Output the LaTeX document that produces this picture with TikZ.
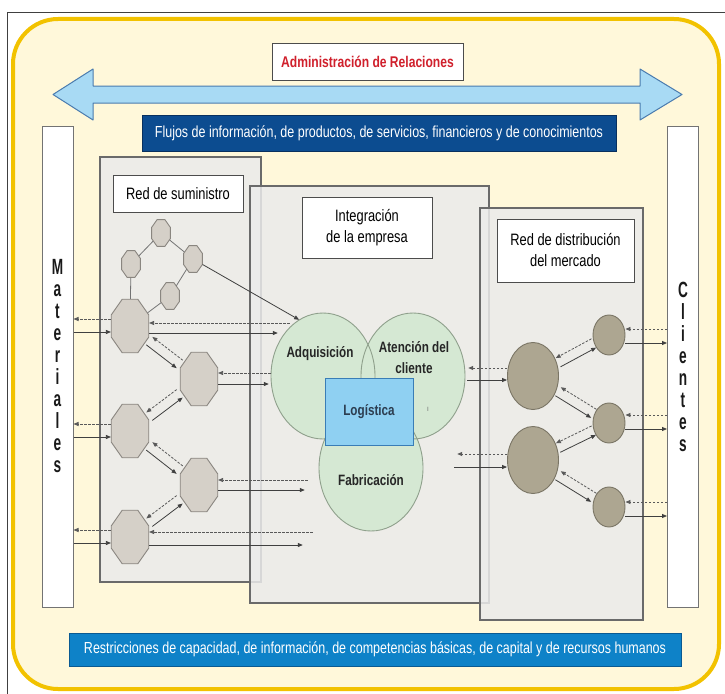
\documentclass[tikz,border=0pt]{standalone}
\usepackage{fontspec}
\setmainfont{Liberation Sans}[FakeStretch=0.78]
\newfontfamily\tallfont{Liberation Sans}[FakeStretch=0.62]
\usetikzlibrary{shapes.geometric, arrows.meta, calc}

\definecolor{goldline}{HTML}{F2C200}
\definecolor{creambg}{HTML}{FFF8DA}
\definecolor{skyfill}{HTML}{A8DAF4}
\definecolor{skyline}{HTML}{4A7BAE}
\definecolor{navyfill}{HTML}{0C4C90}
\definecolor{navyline}{HTML}{08305E}
\definecolor{cyanfill}{HTML}{0E82C8}
\definecolor{cyanline}{HTML}{0A5A92}
\definecolor{redtext}{HTML}{D0202C}
\definecolor{panelfill}{HTML}{EBEBEB}
\definecolor{panelline}{HTML}{6A6A6A}
\definecolor{octfill}{HTML}{D5D0C8}
\definecolor{octline}{HTML}{8A8680}
\definecolor{dotfill}{HTML}{ADA691}
\definecolor{dotline}{HTML}{7A7565}
\definecolor{greenfill}{HTML}{D5E8D3}
\definecolor{greenline}{HTML}{8FA08C}
\definecolor{logifill}{HTML}{8FD0F2}
\definecolor{logiline}{HTML}{3A7DB6}
\definecolor{logitext}{HTML}{2C3D50}

\tikzset{
  panel/.style={draw=panelline, line width=1.2pt, fill=panelfill, fill opacity=0.85, text opacity=1, inner sep=0pt},
  headbox/.style={draw=black!70, line width=1pt, fill=white, align=center, inner sep=0pt,
    text=black, font=\fontsize{16.5}{21}\selectfont},
  column/.style={draw=black!55, line width=1pt, fill=white, align=center, inner sep=0pt,
    minimum width=31pt, minimum height=481pt, text=black!90, font=\tallfont\bfseries\fontsize{22}{22}\selectfont},
  bigoct/.style={regular polygon, regular polygon sides=8, minimum size=58pt, xscale=0.7, transform shape,
    draw=octline, fill=octfill, inner sep=0pt, line width=0.9pt},
  smalloct/.style={bigoct, minimum size=29pt},
  bigdot/.style={ellipse, draw=dotline, fill=dotfill, line width=0.9pt, inner sep=0pt, minimum width=51pt, minimum height=67pt},
  smalldot/.style={bigdot, minimum width=32pt, minimum height=40pt},
  area/.style={ellipse, fill=greenfill, inner sep=0pt, minimum width=104pt, minimum height=126pt},
  arealabel/.style={align=center, text=black!85, font=\bfseries\fontsize{15}{21}\selectfont},
  link/.style={draw=black!55, line width=0.8pt},
  flow/.style={draw=black!75, line width=0.8pt, -{Triangle[length=5pt, width=4pt]}},
  back/.style={flow, draw=black!65, dash pattern=on 2.5pt off 1.5pt},
}

% solid arrow from #1 to #2, dashed one back, each on its right hand side
\newcommand{\twoway}[4]{%
  \draw[flow] ($(#1)!#3!(#2)!5pt!-90:(#2)$) -- ($(#2)!#4!(#1)!5pt!90:(#1)$);
  \draw[back] ($(#2)!#4!(#1)!5pt!-90:(#1)$) -- ($(#1)!#3!(#2)!5pt!90:(#2)$);
}

\begin{document}
\begin{tikzpicture}[x=1pt, y=-1pt]

	\useasboundingbox (0,0) rectangle (725,693);
	\draw[black!75, line width=1pt] (7,13) rectangle (760,720);
	\draw[goldline, line width=4pt, fill=creambg, rounded corners=45pt] (13,19) rectangle (719,689);

	% top band
	\node[draw=black!70, line width=1pt, fill=white, inner sep=0pt, minimum width=191pt, minimum height=36pt,
		text=redtext, font=\bfseries\fontsize{15.5}{18}\selectfont] (admin) at (367.5,62) {Administración de Relaciones};
	\draw[draw=skyline, line width=1pt, fill=skyfill, line join=round]
		(53,94.5) -- (93,69) -- (93,86) -- (640,86) -- (640,69) -- (682,94.5)
		-- (640,120) -- (640,103) -- (93,103) -- (93,120) -- cycle;
	\node[draw=navyline, line width=1pt, fill=navyfill, inner sep=0pt, minimum width=474pt, minimum height=36pt,
		text=white, font=\fontsize{16}{18}\selectfont] (flows) at (379,133)
		{Flujos de información, de productos, de servicios, financieros y de conocimientos};

	% side columns
	\node[column] (mat) at (57.5,366.5) {M\\a\\t\\e\\r\\i\\a\\l\\e\\s};
	\node[column] (cli) at (683,366.5) {C\\l\\i\\e\\n\\t\\e\\s};

	% panels
	\node[panel, minimum width=161pt, minimum height=425pt] (sup) at (180.5,369.5) {};
	\node[panel, minimum width=239pt, minimum height=417pt] (int) at (369.5,394.5) {};
	\node[panel, minimum width=163pt, minimum height=412pt] (dis) at (561.5,414) {};

	\node[headbox, minimum width=130pt, minimum height=37pt] (supHead) at (178,193.5) {Red de suministro};
	\node[headbox, minimum width=130pt, minimum height=61pt] (intHead) at (367,227.5) {Integración\\de la empresa};
	\node[headbox, minimum width=137pt, minimum height=63pt] (disHead) at (565.5,250.5) {Red de distribución\\del mercado};

	% supply network
	\node[smalloct] (st) at (161,233) {};
	\node[smalloct] (sl) at (131,264) {};
	\node[smalloct] (sr) at (193,259) {};
	\node[smalloct] (sb) at (170,296) {};
	\node[bigoct] (b1) at (130,326) {};
	\node[bigoct] (b2) at (199,379) {};
	\node[bigoct] (b3) at (130,431) {};
	\node[bigoct] (b4) at (199,485) {};
	\node[bigoct] (b5) at (130,537) {};
	\draw[link] (sl) -- (st) -- (sr) -- (sb) -- (b1) -- (sl);

	% enterprise
	\node[area] (adq) at (323,376) {};
	\node[area] (atn) at (413,376) {};
	\node[area] (fab) at (371,468) {};
	\foreach \c in {adq,atn,fab}
		\draw[greenline, line width=0.9pt] (\c.center) ellipse [x radius=52, y radius=63];
	\node[arealabel] (adqText) at (320,354) {Adquisición};
	\node[arealabel] (atnText) at (414,358) {Atención del\\cliente};
	\node[arealabel] (fabText) at (371,480) {Fabricación};
	\node[text=black!60, font=\fontsize{8}{8}\selectfont] (tick) at (428,409) {ı};
	\node[draw=logiline, line width=1pt, fill=logifill, inner sep=0pt, minimum width=88pt, minimum height=67pt,
		text=logitext, font=\bfseries\fontsize{15}{18}\selectfont] (logi) at (369,411.5) {Logística};

	% distribution network
	\node[bigdot] (d1) at (533,376) {};
	\node[bigdot] (d2) at (533,460) {};
	\node[smalldot] (s1) at (609,335) {};
	\node[smalldot] (s2) at (609,423) {};
	\node[smalldot] (s3) at (609,507) {};

	% supply flows
	\foreach \n in {b1,b3,b5} {
		\draw[back] ([yshift=7pt]\n.west) -- ([yshift=7pt]\n.west -| mat.east);
		\draw[flow] ([yshift=-6pt]\n.west -| mat.east) -- ([yshift=-6pt]\n.west);
	}
	\twoway{b1}{b2}{0.28}{0.28}
	\twoway{b3}{b2}{0.28}{0.28}
	\twoway{b3}{b4}{0.28}{0.28}
	\twoway{b5}{b4}{0.28}{0.28}
	\draw[flow] (sr) -- (adq.113);
	\draw[back] ([xshift=19pt,yshift=3pt]b1.east -| adq.west) -- ([yshift=3pt]b1.east);
	\draw[flow] ([yshift=-7pt]b1.east) -- ([xshift=7pt,yshift=-7pt]b1.east -| adq.west);
	\draw[back] ([yshift=6pt]b2.east -| adq.west) -- ([yshift=6pt]b2.east);
	\draw[flow] ([yshift=-5pt]b2.east) -- ([xshift=-2pt,yshift=-5pt]b2.east -| adq.west);
	\draw[back] ([xshift=-11pt,yshift=5pt]b4.east -| fab.west) -- ([yshift=5pt]b4.east);
	\draw[flow] ([yshift=-5pt]b4.east) -- ([xshift=-14pt,yshift=-5pt]b4.east -| fab.west);
	\draw[back] ([xshift=-6pt,yshift=5pt]b5.east -| fab.west) -- ([yshift=5pt]b5.east);
	\draw[flow] ([yshift=-8pt]b5.east) -- ([xshift=-16pt,yshift=-8pt]b5.east -| fab.west);

	% distribution flows
	\draw[back] ([yshift=8pt]d1.west) -- ([xshift=3pt,yshift=8pt]d1.west -| atn.east);
	\draw[flow] ([xshift=2pt,yshift=-4pt]d1.west -| atn.east) -- ([yshift=-4pt]d1.west);
	\draw[back] ([yshift=6pt]d2.west) -- ([xshift=-8pt,yshift=6pt]d2.west -| atn.east);
	\draw[flow] ([xshift=-11pt,yshift=-7pt]d2.west -| atn.east) -- ([yshift=-7pt]d2.west);
	\twoway{d1}{s1}{0.33}{0.2}
	\twoway{d1}{s2}{0.33}{0.2}
	\twoway{d2}{s2}{0.33}{0.2}
	\twoway{d2}{s3}{0.33}{0.2}
	\draw[back] ([yshift=6pt]s1.east -| cli.west) -- ([yshift=6pt]s1.east);
	\draw[flow] ([yshift=-8pt]s1.east) -- ([yshift=-8pt]s1.east -| cli.west);
	\draw[back] ([yshift=8pt]s2.east -| cli.west) -- ([yshift=8pt]s2.east);
	\draw[flow] ([yshift=-6pt]s2.east) -- ([yshift=-6pt]s2.east -| cli.west);
	\draw[back] ([yshift=5pt]s3.east -| cli.west) -- ([yshift=5pt]s3.east);
	\draw[flow] ([yshift=-9pt]s3.east) -- ([yshift=-9pt]s3.east -| cli.west);

	% bottom band
	\node[draw=cyanline, line width=1pt, fill=cyanfill, inner sep=0pt, minimum width=612pt, minimum height=33pt,
		text=white, font=\fontsize{16}{18}\selectfont] (limits) at (375,649.5)
		{Restricciones de capacidad, de información, de competencias básicas, de capital y de recursos humanos};

\end{tikzpicture}
\end{document}
